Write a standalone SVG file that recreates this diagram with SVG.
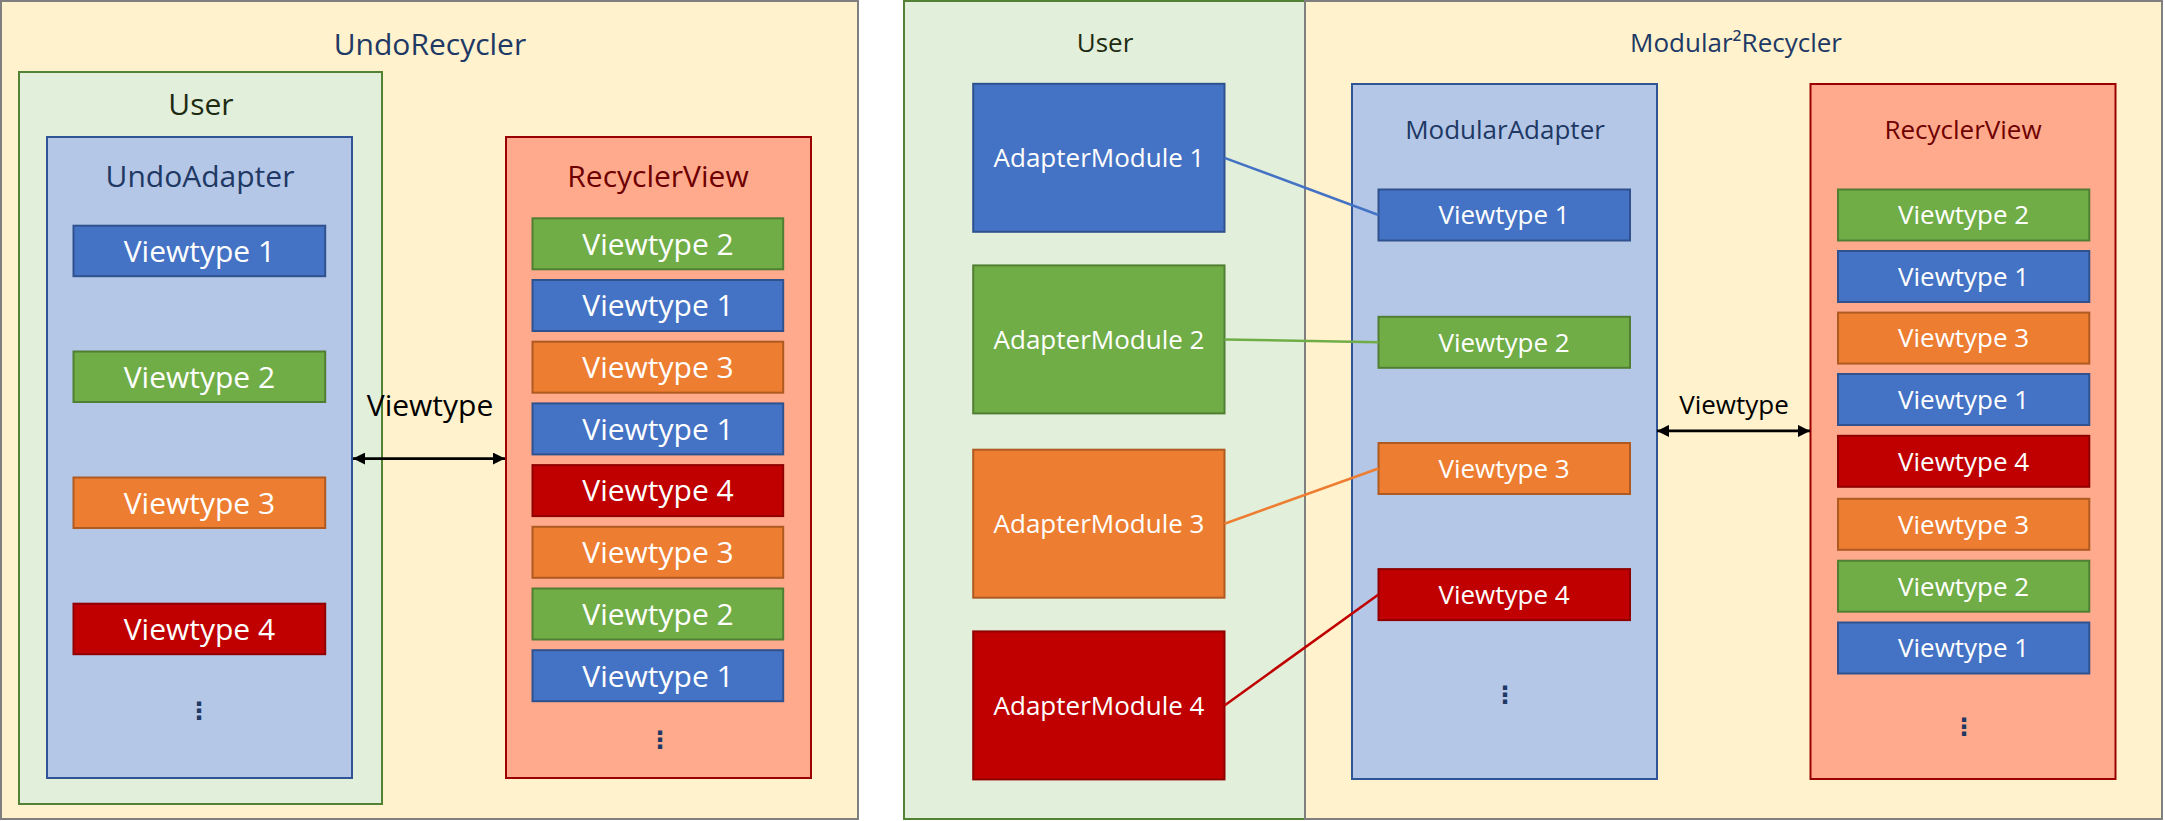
<svg xmlns="http://www.w3.org/2000/svg" width="2165" height="821" viewBox="0 0 2165 821">
<defs>
<style>
.t{font-family:"Open Sans","Noto Sans","DejaVu Sans",sans-serif;text-anchor:middle}
.l{font-size:30px}
.r{font-size:26px}
.w{fill:#ffffff}
.navy{fill:#203864}
.usr{fill:#1d2b12}
.dred{fill:#6e0000}
.blk{fill:#000000}
.dots{font-family:"DejaVu Sans",sans-serif;text-anchor:middle;font-size:24px;font-weight:bold;fill:#203864}
.bg{fill:#FFF2CC;stroke:#7F7F7F;stroke-width:2}
.user{fill:#E2EFDA;stroke:#548235;stroke-width:2}
.ad{fill:#B4C7E7;stroke:#2F5597;stroke-width:2}
.rv{fill:#FFAA8D;stroke:#9A0000;stroke-width:2}
.b{fill:#4472C4;stroke:#2F528F;stroke-width:2}
.g{fill:#70AD47;stroke:#507E32;stroke-width:2}
.o{fill:#ED7D31;stroke:#AE5A21;stroke-width:2}
.rd{fill:#C00000;stroke:#8F0000;stroke-width:2}
.arr{stroke:#000;stroke-width:2.7;fill:none;marker-start:url(#ah);marker-end:url(#ah)}
.c{stroke-width:2.5;fill:none}
</style>
<marker id="ah" markerUnits="userSpaceOnUse" markerWidth="12" markerHeight="12" viewBox="0 0 12 12" refX="12" refY="6" orient="auto-start-reverse">
<path d="M0,0 L12,6 L0,12 Z" fill="#000"/>
</marker>
</defs>

<g id="undo-recycler">
<rect class="bg" x="1" y="1" width="857" height="818"/>
<text class="t l navy" x="430" y="55">UndoRecycler</text>
</g>
<g id="left-user">
<rect class="user" x="19" y="72" width="363" height="732"/>
<text class="t l usr" x="201" y="115">User</text>
</g>
<g id="undo-adapter">
<rect class="ad" x="47" y="137" width="305" height="641"/>
<text class="t l navy" x="200" y="187">UndoAdapter</text>
<text class="dots" x="199" y="719">⋮</text>
</g>
<g id="ua-vt1"><rect class="b" x="73.5" y="225.7" width="251.7" height="50.5"/><text class="t l w" x="199.4" y="261.8">Viewtype 1</text></g>
<g id="ua-vt2"><rect class="g" x="73.5" y="351.5" width="251.7" height="50.5"/><text class="t l w" x="199.4" y="387.6">Viewtype 2</text></g>
<g id="ua-vt3"><rect class="o" x="73.5" y="477.5" width="251.7" height="50.5"/><text class="t l w" x="199.4" y="513.6">Viewtype 3</text></g>
<g id="ua-vt4"><rect class="rd" x="73.5" y="603.7" width="251.7" height="50.5"/><text class="t l w" x="199.4" y="639.8">Viewtype 4</text></g>

<g id="left-rv">
<rect class="rv" x="506" y="137" width="305" height="641"/>
<text class="t l dred" x="658" y="187">RecyclerView</text>
<text class="dots" x="660" y="748">⋮</text>
</g>
<g id="lrv-1"><rect class="g" x="532.5" y="218.3" width="250.7" height="51"/><text class="t l w" x="658" y="254.6">Viewtype 2</text></g>
<g id="lrv-2"><rect class="b" x="532.5" y="280" width="250.7" height="51"/><text class="t l w" x="658" y="316.3">Viewtype 1</text></g>
<g id="lrv-3"><rect class="o" x="532.5" y="341.7" width="250.7" height="51"/><text class="t l w" x="658" y="378">Viewtype 3</text></g>
<g id="lrv-4"><rect class="b" x="532.5" y="403.4" width="250.7" height="51"/><text class="t l w" x="658" y="439.7">Viewtype 1</text></g>
<g id="lrv-5"><rect class="rd" x="532.5" y="465.1" width="250.7" height="51"/><text class="t l w" x="658" y="501.4">Viewtype 4</text></g>
<g id="lrv-6"><rect class="o" x="532.5" y="526.8" width="250.7" height="51"/><text class="t l w" x="658" y="563.1">Viewtype 3</text></g>
<g id="lrv-7"><rect class="g" x="532.5" y="588.5" width="250.7" height="51"/><text class="t l w" x="658" y="624.8">Viewtype 2</text></g>
<g id="lrv-8"><rect class="b" x="532.5" y="650.2" width="250.7" height="51"/><text class="t l w" x="658" y="686.5">Viewtype 1</text></g>

<g id="right-user">
<rect class="user" x="904" y="1" width="401" height="818"/>
<text class="t r usr" x="1105" y="52">User</text>
</g>
<g id="modular-recycler">
<rect class="bg" x="1305" y="1" width="857" height="818"/>
<text class="t r navy" x="1736" y="52">Modular²Recycler</text>
</g>
<g id="am1"><rect class="b" x="973.2" y="83.8" width="251.3" height="148"/><text class="t r w" x="1099" y="167">AdapterModule 1</text></g>
<g id="am2"><rect class="g" x="973.2" y="265.4" width="251.3" height="148"/><text class="t r w" x="1099" y="348.6">AdapterModule 2</text></g>
<g id="am3"><rect class="o" x="973.2" y="449.7" width="251.3" height="148"/><text class="t r w" x="1099" y="532.9">AdapterModule 3</text></g>
<g id="am4"><rect class="rd" x="973.2" y="631.4" width="251.3" height="148"/><text class="t r w" x="1099" y="714.6">AdapterModule 4</text></g>

<g id="modular-adapter">
<rect class="ad" x="1352" y="84" width="305" height="695"/>
<text class="t r navy" x="1505" y="139">ModularAdapter</text>
<text class="dots" x="1505" y="703">⋮</text>
</g>
<g id="ma-vt1"><rect class="b" x="1378.5" y="189.5" width="251.5" height="51"/><text class="t r w" x="1504" y="224.3">Viewtype 1</text></g>
<g id="ma-vt2"><rect class="g" x="1378.5" y="316.8" width="251.5" height="51"/><text class="t r w" x="1504" y="351.6">Viewtype 2</text></g>
<g id="ma-vt3"><rect class="o" x="1378.5" y="443" width="251.5" height="51"/><text class="t r w" x="1504" y="477.8">Viewtype 3</text></g>
<g id="ma-vt4"><rect class="rd" x="1378.5" y="569.1" width="251.5" height="51"/><text class="t r w" x="1504" y="603.9">Viewtype 4</text></g>

<g id="right-rv">
<rect class="rv" x="1810.5" y="84" width="305" height="695"/>
<text class="t r dred" x="1963" y="139">RecyclerView</text>
<text class="dots" x="1964" y="735">⋮</text>
</g>
<g id="rrv-1"><rect class="g" x="1838" y="189.5" width="251.3" height="51"/><text class="t r w" x="1963.6" y="224.3">Viewtype 2</text></g>
<g id="rrv-2"><rect class="b" x="1838" y="251" width="251.3" height="51"/><text class="t r w" x="1963.6" y="285.8">Viewtype 1</text></g>
<g id="rrv-3"><rect class="o" x="1838" y="312.6" width="251.3" height="51"/><text class="t r w" x="1963.6" y="347.4">Viewtype 3</text></g>
<g id="rrv-4"><rect class="b" x="1838" y="374" width="251.3" height="51"/><text class="t r w" x="1963.6" y="408.8">Viewtype 1</text></g>
<g id="rrv-5"><rect class="rd" x="1838" y="435.8" width="251.3" height="51"/><text class="t r w" x="1963.6" y="470.6">Viewtype 4</text></g>
<g id="rrv-6"><rect class="o" x="1838" y="498.8" width="251.3" height="51"/><text class="t r w" x="1963.6" y="533.6">Viewtype 3</text></g>
<g id="rrv-7"><rect class="g" x="1838" y="560.7" width="251.3" height="51"/><text class="t r w" x="1963.6" y="595.5">Viewtype 2</text></g>
<g id="rrv-8"><rect class="b" x="1838" y="622.5" width="251.3" height="51"/><text class="t r w" x="1963.6" y="657.3">Viewtype 1</text></g>

<g id="connectors">
<line class="arr" x1="353" y1="458.6" x2="505" y2="458.6"/>
<text class="t l blk" x="430" y="416">Viewtype</text>
<line class="arr" x1="1657" y1="430.9" x2="1810" y2="430.9"/>
<text class="t r blk" x="1734" y="413.6">Viewtype</text>
<line class="c" stroke="#4472C4" x1="1224.5" y1="157.8" x2="1378.5" y2="215"/>
<line class="c" stroke="#70AD47" x1="1224.5" y1="339.4" x2="1378.5" y2="342.3"/>
<line class="c" stroke="#ED7D31" x1="1224.5" y1="523.7" x2="1378.5" y2="468.5"/>
<line class="c" stroke="#C00000" x1="1224.5" y1="705.4" x2="1378.5" y2="594.6"/>
</g>
</svg>
